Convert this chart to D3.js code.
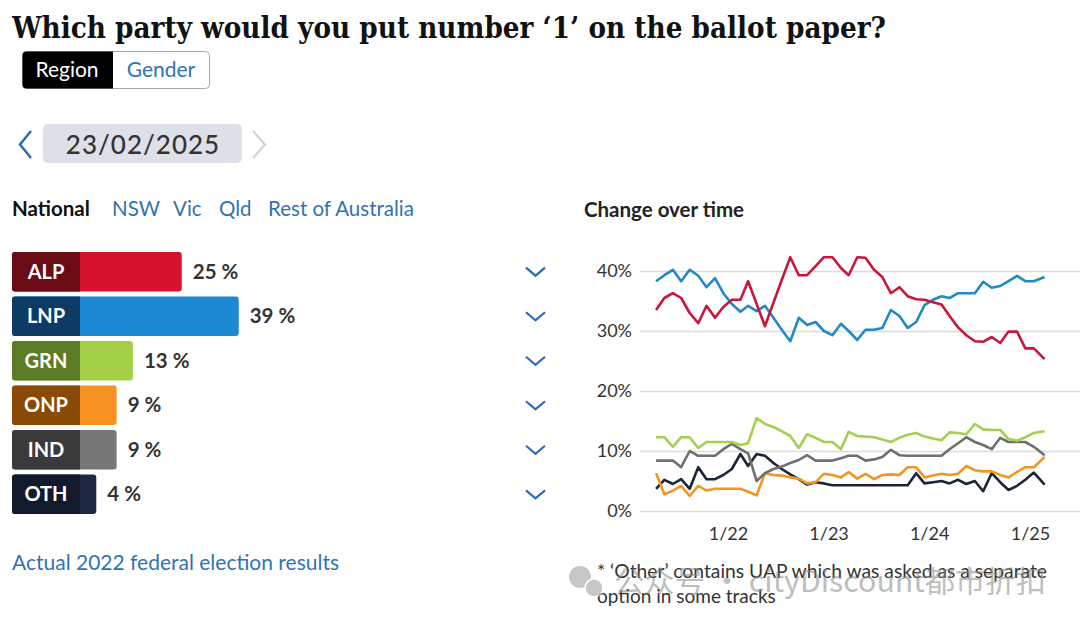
<!DOCTYPE html>
<html>
<head>
<meta charset="utf-8">
<script src="https://cdn.jsdelivr.net/npm/d3@7"></script>
<style>
  body { margin: 0; background: #fff; }
  svg { display: block; font-family: Lato, "Open Sans", sans-serif; }
</style>
</head>
<body>
<svg id="chart" width="1080" height="626"></svg>
<script>
  // latest poll, one value per party
  var parties = ['ALP', 'LNP', 'GRN', 'ONP', 'IND', 'OTH'];
  var latest = [25, 39, 13, 9, 9, 4];
  var tabs = ['National', 'NSW', 'Vic', 'Qld', 'Rest of Australia'];

  // poll dates for the change over time chart
  var pollDates = ['2021-04-15', '2021-05-15', '2021-06-15', '2021-07-15', '2021-08-15', '2021-09-15',
    '2021-10-15', '2021-11-15', '2021-12-15', '2022-01-15', '2022-02-15', '2022-03-15',
    '2022-04-15', '2022-05-15', '2022-06-15', '2022-07-15', '2022-08-15', '2022-09-15',
    '2022-10-15', '2022-11-15', '2022-12-15', '2023-01-15', '2023-02-15', '2023-03-15',
    '2023-04-15', '2023-05-15', '2023-06-15', '2023-07-15', '2023-08-15', '2023-09-15',
    '2023-10-15', '2023-11-15', '2023-12-15', '2024-01-15', '2024-02-15', '2024-03-15',
    '2024-04-15', '2024-05-15', '2024-06-15', '2024-07-15', '2024-08-15', '2024-09-15',
    '2024-10-15', '2024-11-15', '2024-12-15', '2025-01-15', '2025-02-23'];

  var alp = [33.5, 35.5, 36.3, 35.5, 33, 31.3, 34.2, 32.2, 34, 35.2, 35.2, 38.3,
    34.5, 30.8, 34.7, 38.5, 42.3, 39.3, 39.3, 40.8, 42.3, 42.3, 40.5, 39.3,
    42.3, 42.2, 40.2, 39, 36.3, 37.3, 35.8, 35.3, 35.2, 34.8, 34.4, 32.5,
    30.6, 29.3, 28.3, 28.2, 29, 28, 29.9, 29.9, 27.1, 27.1, 25.3];
  var lnp = [38.3, 39.3, 40.2, 38.3, 40.2, 39.2, 37.3, 38.8, 36.3, 34.5, 33.2, 34.2,
    33.3, 34.2, 32.2, 30.2, 28.3, 32.2, 31, 31.5, 30, 29.3, 31.2, 30,
    28.5, 30.2, 30.2, 30.5, 33.5, 32.5, 30.5, 31.5, 34.3, 35.2, 35.8, 35.5,
    36.3, 36.3, 36.3, 38.2, 37.2, 37.5, 38.3, 39.2, 38.3, 38.3, 39];
  var grn = [12.3, 12.3, 10.7, 12.3, 12.3, 10.5, 11.5, 11.5, 11.5, 11.5, 11, 11.3,
    15.5, 14.5, 14, 13.3, 12.5, 10.5, 12.8, 12.2, 11.5, 11.5, 10.3, 13.2,
    12.5, 12.4, 12.3, 11.9, 11.5, 12.2, 12.7, 13, 12.4, 12.1, 11.8, 13.1,
    13, 12.8, 14.5, 13.6, 13.5, 13.5, 12, 11.7, 12.3, 13, 13.3];
  var onp = [6.3, 2.8, 3.4, 4.2, 2.5, 4.2, 3.4, 3.7, 3.7, 3.7, 3.7, 3.2,
    2.6, 6.3, 6, 5.9, 5.6, 5.4, 4.6, 4.8, 6.2, 6, 5.6, 6.5,
    5.4, 6.2, 5.3, 6, 6.1, 6, 7.3, 7.3, 5.6, 5.9, 6.2, 6,
    6.2, 7.5, 6.8, 6.6, 6.6, 6, 5.6, 6.5, 7.3, 7.3, 9];
  var ind = [8.4, 8.4, 8.4, 7.3, 10, 9.2, 9.2, 9.2, 10.3, 11.2, 10.3, 9.6,
    5, 6.3, 7, 7.4, 8, 8.5, 9.3, 8.4, 8.4, 8.4, 8.8, 9.2,
    9.2, 8.4, 8.6, 9, 10.2, 9.3, 9.2, 9.2, 9.2, 9.2, 9.2, 10.3,
    11.3, 12.3, 11.5, 11, 10.3, 12.2, 11.5, 11.5, 11.5, 10.7, 9.3];
  var oth = [3.7, 5.2, 4.5, 5.3, 3.7, 7.3, 5.3, 5.3, 6, 7, 9.5, 7.5,
    9.5, 9.2, 8, 7, 6.1, 5.3, 4.4, 4.8, 4.6, 4.3, 4.3, 4.3,
    4.3, 4.3, 4.3, 4.3, 4.3, 4.3, 4.3, 6.3, 4.6, 4.8, 5, 4.6,
    5.2, 4.5, 5, 3.3, 6.3, 4.8, 3.5, 4.2, 5.2, 6.4, 4.4];

  var yTicks = [0, 10, 20, 30, 40];
  var xTicks = ['2022-01-01', '2023-01-01', '2024-01-01', '2025-01-01'];

  var lightColors = ['#d5132c', '#1b88d1', '#a3cf45', '#f7911f', '#777777', '#1c2842'];
  var darkColors = ['#6a0b16', '#0e3b64', '#5b7b27', '#8a4a06', '#3a3a3a', '#131a2c'];
  var lineColors = ['#c8173a', '#1f8ac6', '#a5cf50', '#f2961f', '#6f6f72', '#1c2438'];
  var series = [alp, lnp, grn, onp, ind, oth];

  var svg = d3.select('#chart');
  var blue = '#3172b5';

  // title
  svg.append('text')
    .attr('x', 12).attr('y', 38)
    .attr('font-family', '"DejaVu Serif", serif')
    .attr('font-weight', 'bold')
    .attr('font-size', 29)
    .attr('fill', '#121212')
    .attr('textLength', 874)
    .attr('lengthAdjust', 'spacingAndGlyphs')
    .text('Which party would you put number \u20181\u2019 on the ballot paper?');

  // Region / Gender toggle
  svg.append('rect').attr('x', 22.5).attr('y', 51.5).attr('width', 187).attr('height', 37)
    .attr('rx', 4).attr('fill', '#fff').attr('stroke', '#a8a8a8');
  svg.append('path')
    .attr('d', 'M26.5,51.5 H113 V88.5 H26.5 Q22.5,88.5 22.5,84.5 V55.5 Q22.5,51.5 26.5,51.5 Z')
    .attr('fill', '#000');
  svg.append('text').attr('x', 67).attr('y', 77).attr('text-anchor', 'middle')
    .attr('font-size', 21).attr('fill', '#fff').text('Region');
  svg.append('text').attr('x', 161).attr('y', 77).attr('text-anchor', 'middle')
    .attr('font-size', 21).attr('fill', blue).text('Gender');

  // date picker
  svg.append('path').attr('d', 'M31,131 L20,144.5 L31,158').attr('fill', 'none')
    .attr('stroke', '#2b6cb3').attr('stroke-width', 2.5);
  svg.append('rect').attr('x', 43).attr('y', 124).attr('width', 199).attr('height', 39)
    .attr('rx', 5).attr('fill', '#dde0e7');
  svg.append('text').attr('x', 143).attr('y', 154).attr('text-anchor', 'middle')
    .attr('font-size', 26).attr('font-weight', 500).attr('fill', '#333').attr('letter-spacing', 1).text('23/02/2025');
  svg.append('path').attr('d', 'M253,131 L265,144.5 L253,158').attr('fill', 'none')
    .attr('stroke', '#d0d0d0').attr('stroke-width', 2);

  // region tabs
  var tabX = [12, 112, 173, 219, 268];
  svg.selectAll('.tab').data(tabs).join('text')
    .attr('class', 'tab')
    .attr('x', (d, i) => tabX[i]).attr('y', 216)
    .attr('font-size', 20.5)
    .attr('font-weight', (d, i) => i === 0 ? 'bold' : 'normal')
    .attr('fill', (d, i) => i === 0 ? '#111' : blue)
    .text(d => d);

  // bars
  var barY = d3.scaleBand().domain(parties).range([251, 515]).paddingInner(0.11).paddingOuter(0.02);
  var barW = d3.scaleLinear().domain([0, 100]).range([0, 407]);
  var labelX = 12, labelW = 68;

  var rows = svg.selectAll('.row').data(parties).join('g')
    .attr('class', 'row')
    .attr('transform', d => 'translate(0,' + barY(d) + ')');

  rows.append('rect')
    .attr('x', labelX).attr('width', (d, i) => labelW + barW(latest[i]))
    .attr('height', barY.bandwidth()).attr('rx', 3)
    .attr('fill', (d, i) => lightColors[i]);
  rows.append('path')
    .attr('d', 'M' + (labelX + 3) + ',0 H' + (labelX + labelW) + ' V' + barY.bandwidth() +
      ' H' + (labelX + 3) + ' Q' + labelX + ',' + barY.bandwidth() + ' ' + labelX + ',' + (barY.bandwidth() - 3) +
      ' V3 Q' + labelX + ',0 ' + (labelX + 3) + ',0 Z')
    .attr('fill', (d, i) => darkColors[i]);
  rows.append('text')
    .attr('x', labelX + labelW / 2).attr('y', barY.bandwidth() / 2 + 7)
    .attr('text-anchor', 'middle')
    .attr('font-size', 20).attr('font-weight', 'bold').attr('fill', '#fff')
    .text(d => d);
  rows.append('text')
    .attr('x', (d, i) => labelX + labelW + barW(latest[i]) + 11)
    .attr('y', barY.bandwidth() / 2 + 7)
    .attr('font-size', 20.5).attr('font-weight', 'bold').attr('fill', '#333')
    .text((d, i) => latest[i] + ' %');
  // expand chevrons
  rows.append('path')
    .attr('d', 'M526,' + (barY.bandwidth() / 2 - 4) + ' L535.5,' + (barY.bandwidth() / 2 + 4) +
      ' L545,' + (barY.bandwidth() / 2 - 4))
    .attr('fill', 'none').attr('stroke', '#2b6cb3').attr('stroke-width', 2.2);

  svg.append('text').attr('x', 12).attr('y', 570)
    .attr('font-size', 21).attr('fill', blue)
    .text('Actual 2022 federal election results');

  // change over time
  svg.append('text').attr('x', 584).attr('y', 217)
    .attr('font-size', 20.5).attr('font-weight', 'bold').attr('fill', '#222')
    .text('Change over time');

  var parse = d3.timeParse('%Y-%m-%d');
  var x = d3.scaleTime().domain([parse('2022-01-01'), parse('2025-01-01')]).range([728, 1030]);
  var y = d3.scaleLinear().domain([0, 40]).range([511, 271]);

  var yAxis = svg.append('g').attr('transform', 'translate(640,0)')
    .call(d3.axisLeft(y).tickValues(yTicks).tickSize(-440).tickPadding(8).tickFormat(d => d + '%'));
  yAxis.select('.domain').remove();
  yAxis.selectAll('line').attr('stroke', '#dcdcdc').attr('stroke-width', 1.5);
  yAxis.selectAll('text').attr('font-size', 18).attr('fill', '#333').attr('font-family', 'Lato, sans-serif');

  var xAxis = svg.append('g').attr('transform', 'translate(0,512)')
    .call(d3.axisBottom(x).tickValues(xTicks.map(parse)).tickSize(0).tickPadding(15)
      .tickFormat(d3.timeFormat('%-m/%y')));
  xAxis.select('.domain').remove();
  xAxis.selectAll('text').attr('font-size', 18).attr('fill', '#333').attr('font-family', 'Lato, sans-serif');

  var line = d3.line()
    .x((d, i) => x(parse(pollDates[i])))
    .y(d => y(d));

  // draw lower series first so ALP/LNP sit on top
  [5, 3, 4, 2, 1, 0].forEach(function (k) {
    svg.append('path')
      .datum(series[k])
      .attr('d', line)
      .attr('fill', 'none')
      .attr('stroke', lineColors[k])
      .attr('stroke-width', 2.6)
      .attr('stroke-linejoin', 'round');
  });

  // footnote
  svg.append('text').attr('x', 597).attr('y', 578)
    .attr('font-size', 19).attr('fill', '#333')
    .attr('textLength', 450).attr('lengthAdjust', 'spacingAndGlyphs')
    .text('* \u2018Other\u2019 contains UAP which was asked as a separate');
  svg.append('text').attr('x', 597).attr('y', 603)
    .attr('font-size', 19).attr('fill', '#333')
    .text('option in some tracks');

  // watermark
  var wm = svg.append('g').attr('opacity', 0.55);
  wm.append('circle').attr('cx', 580).attr('cy', 577).attr('r', 11).attr('fill', '#9a9a9a');
  wm.append('circle').attr('cx', 594).attr('cy', 588).attr('r', 9).attr('fill', '#9a9a9a')
    .attr('stroke', '#fff').attr('stroke-width', 1.5);
  wm.append('text').attr('x', 614).attr('y', 592)
    .attr('font-family', '"Noto Sans CJK SC", "Noto Sans", sans-serif')
    .attr('font-size', 30).attr('fill', '#8a8a8a')
    .attr('textLength', 432).attr('lengthAdjust', 'spacingAndGlyphs')
    .text('公众号 · cityDiscount都市折扣');
</script>
</body>
</html>
